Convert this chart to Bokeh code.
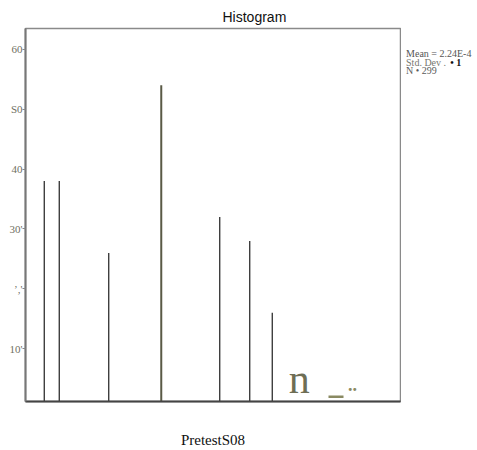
from bokeh.plotting import figure
from bokeh.layouts import row
from bokeh.models import FixedTicker, Range1d
from bokeh.core.properties import value
from bokeh.embed import file_html
from bokeh.resources import INLINE

# ---- data ----
bin_pos = [-2.25, -2.05, -1.39, -0.69, 0.09, 0.49, 0.79]
counts = [38, 38, 26, 54, 32, 28, 16]
bar_colors = ["#1e1e1e", "#1e1e1e", "#1e1e1e", "#5a5a46", "#1e1e1e", "#1e1e1e", "#1e1e1e"]
bar_widths = [1.2, 1.2, 1.2, 2.0, 1.2, 1.2, 1.2]

y_ticks = [10, 20, 30, 40, 50, 60]
y_tick_labels = ["10'", "\u02bc,'", "30'", "40", "S0", "60"]

glyph_x = [1.15]
glyph_y = [4.9]
glyph_text = ["n"]
dots_x = [1.86]
dots_y = [4.0]
dash_x0 = [1.54]
dash_x1 = [1.74]
dash_y = [1.95]

stats_lines = ["Mean = 2.24E-4", "Std. Dev .", "N \u2022 299"]
stats_y = [59.4, 57.8, 56.4]
stats_x = [0.06, 0.06, 0.06]
stats_colors = ["#555555", "#777770", "#5a5a5a"]

yr = Range1d(1.17, 63.5)

p = figure(width=401, height=450, output_backend="svg", toolbar_location=None,
           x_range=Range1d(-2.5, 2.5), y_range=yr,
           min_border_left=25, min_border_right=1, min_border_top=28, min_border_bottom=48)
p.background_fill_color = "white"
p.border_fill_color = "white"
p.outline_line_color = "#8a8a8a"
p.outline_line_width = 1.5
p.xgrid.visible = False
p.ygrid.visible = False

p.title.text = "Histogram"
p.title.text_font = "Liberation Sans"
p.title.text_font_size = "14px"
p.title.text_font_style = "normal"
p.title.text_color = "#111111"
p.title.align = "left"
p.title.offset = 197
p.title.standoff = 8

# y axis
ya = p.yaxis[0]
ya.ticker = FixedTicker(ticks=y_ticks)
ya.major_label_overrides = {t: l for t, l in zip(y_ticks, y_tick_labels)}
ya.major_label_text_font = "Liberation Serif"
ya.major_label_text_font_size = "11px"
ya.major_label_text_color = "#6f6f5f"
ya.major_label_standoff = 0
ya.major_tick_out = 3
ya.major_tick_in = 0
ya.major_tick_line_color = "#888888"
ya.minor_tick_line_color = None
ya.axis_line_color = "#777777"
ya.axis_line_width = 2

# x axis
xa = p.xaxis[0]
xa.ticker = FixedTicker(ticks=[])
xa.minor_tick_line_color = None
xa.major_tick_line_color = None
xa.major_tick_out = 0
xa.axis_line_color = "#444444"
xa.axis_line_width = 2
xa.axis_label = "PretestS08"
xa.axis_label_text_font = "Liberation Serif"
xa.axis_label_text_font_size = "15px"
xa.axis_label_text_font_style = "normal"
xa.axis_label_text_color = "#111111"
xa.axis_label_standoff = 30

# bars as thin vertical lines
p.segment(x0=bin_pos, y0=[0] * len(counts), x1=bin_pos, y1=counts,
          line_color=bar_colors, line_width=bar_widths)

# scanned glyph remnants
p.text(x=glyph_x, y=glyph_y, text=glyph_text, text_font=value("Liberation Serif"),
       text_font_size="42px", text_color="#6e6e55", text_align="center",
       text_baseline="alphabetic")
p.text(x=dots_x, y=dots_y, text=[".."], text_font=value("Liberation Serif"),
       text_font_size="18px", text_font_style="bold", text_color="#8a8a62",
       text_align="center", text_baseline="alphabetic")
p.segment(x0=dash_x0, y0=dash_y, x1=dash_x1, y1=dash_y, line_color="#8a8a62", line_width=2.5)

# statistics text panel, sharing the y scale
s = figure(width=76, height=450, output_backend="svg", toolbar_location=None,
           x_range=Range1d(0, 1), y_range=yr, x_axis_type=None, y_axis_type=None,
           min_border_left=0, min_border_right=0, min_border_top=28, min_border_bottom=48)
s.outline_line_color = None
s.xgrid.visible = False
s.ygrid.visible = False
s.background_fill_color = "white"
s.border_fill_color = "white"
s.text(x=stats_x, y=stats_y, text=stats_lines, text_font=value("Liberation Serif"),
       text_font_size="10px", text_color=stats_colors, text_baseline="middle")
s.text(x=[0.64], y=[stats_y[1]], text=["\u2022 1"], text_font=value("Liberation Serif"),
       text_font_size="10px", text_font_style="bold", text_color="#111111",
       text_baseline="middle")

layout = row(p, s, spacing=0)
open("out.html", "w").write(file_html(layout, INLINE))
